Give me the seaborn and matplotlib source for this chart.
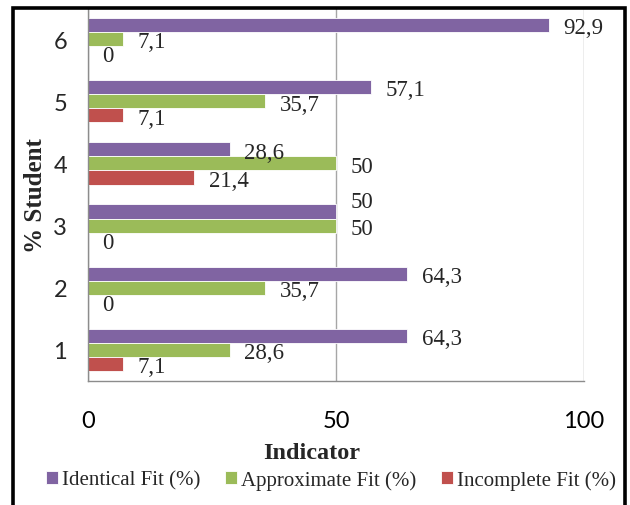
import matplotlib
matplotlib.use("Agg")
import matplotlib.pyplot as plt
import seaborn as sns
import pandas as pd
from matplotlib.patches import Rectangle

# Student groups listed top to bottom, with the share (%) in each fit class
categories = ["6", "5", "4", "3", "2", "1"]
identical = [92.9, 57.1, 28.6, 50, 64.3, 64.3]
approximate = [7.1, 35.7, 50, 50, 35.7, 28.6]
incomplete = [0, 7.1, 21.4, 0, 0, 7.1]
series = ["Identical Fit (%)", "Approximate Fit (%)", "Incomplete Fit (%)"]
x_ticks = [0, 50, 100]

colors = ["#8064A2", "#9BBB59", "#C0504D"]
SERIF = "Liberation Serif"
SANS = "Lato"

rows = []
for name, vals in zip(series, [identical, approximate, incomplete]):
    for cat, v in zip(categories, vals):
        rows.append({"Student": cat, "Value": v, "Series": name})
df = pd.DataFrame(rows)

sns.set_theme(style="white")
W, H = 630, 506
fig = plt.figure(figsize=(W / 100, H / 100), dpi=100)
ax = fig.add_axes([88 / W, 1 - 382 / H, (584 - 88) / W, (382 - 9) / H])

sns.barplot(data=df, y="Student", x="Value", hue="Series", order=categories,
            hue_order=series, palette=colors, orient="h", width=0.68,
            edgecolor="white", linewidth=0.6, saturation=1, ax=ax)

ax.set_xlim(0, 100)
ax.set_xticks(x_ticks)
ax.set_xticklabels([str(t) for t in x_ticks], fontfamily=SANS, fontsize=17)
ax.tick_params(axis="x", which="major", direction="out", length=7, width=1,
               color="#8c8c8c", pad=14, colors="#8c8c8c", labelcolor="black")
ax.set_yticks(range(len(categories)))
ax.set_yticklabels(categories, fontfamily=SANS, fontsize=17)
ax.tick_params(axis="y", which="major", length=0, pad=15)
ax.set_yticks([i - 0.5 for i in range(len(categories) + 1)], minor=True)
ax.tick_params(axis="y", which="minor", direction="out", length=5, width=1,
               color="#8c8c8c")

ax.xaxis.grid(True, color="#a6a6a6", linewidth=1)
ax.yaxis.grid(False)
ax.set_axisbelow(True)
for side in ["top", "right"]:
    ax.spines[side].set_visible(False)
for side in ["left", "bottom"]:
    ax.spines[side].set_color("#8c8c8c")
    ax.spines[side].set_linewidth(1)

ax.set_ylabel("% Student", fontfamily=SERIF, fontweight="bold", fontsize=18,
              va="center")
ax.yaxis.set_label_coords((35 - 88) / 496, 0.5)
ax.set_xlabel("Indicator", fontfamily=SERIF, fontweight="bold", fontsize=17.5,
              va="center")
ax.xaxis.set_label_coords((312 - 88) / 496, (382 - 454) / 373)

# value labels at the outer end of each bar (comma decimal separator)
shift = {("3", series[0]): 9}
for name, cont in zip(series, ax.containers):
    for cat, bar in zip(categories, cont.patches):
        v = bar.get_width()
        txt = f"{v:g}".replace(".", ",")
        dy = -2 + shift.get((cat, name), 0)
        ax.annotate(txt, (v, bar.get_y() + bar.get_height() / 2),
                    xytext=(10.5, dy), textcoords="offset points",
                    ha="left", va="center", fontfamily=SERIF, fontsize=16.5,
                    annotation_clip=False)

handles, labels = ax.get_legend_handles_labels()
ax.get_legend().remove()
fig.legend(handles, labels, loc="center", bbox_to_anchor=(331 / W, 1 - 481 / H),
           ncol=3, frameon=False, handlelength=0.55, handleheight=0.55,
           handletextpad=0.2, columnspacing=1.2,
           prop={"family": SERIF, "size": 15})

# outer frame around the chart
fig.patches.append(Rectangle((13 / W, -0.05), (625 - 13) / W, 1.05 - 8.5 / H,
                             transform=fig.transFigure, fill=False,
                             edgecolor="black", linewidth=2.6))

fig.savefig("out.png", dpi=100)
